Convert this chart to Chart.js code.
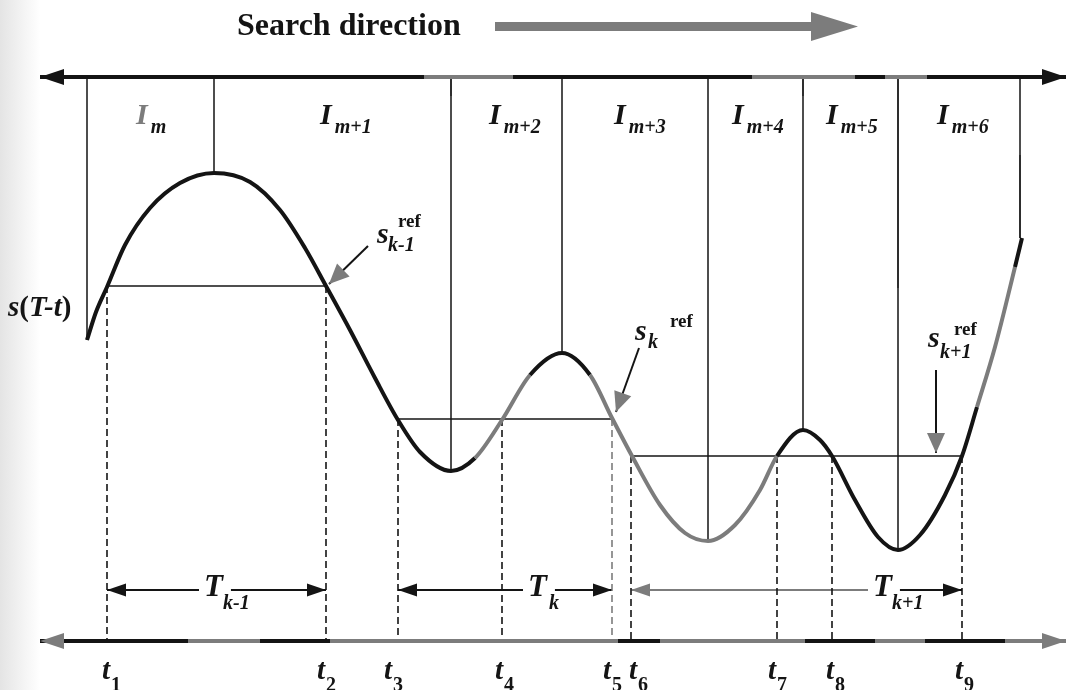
<!DOCTYPE html>
<html>
<head>
<meta charset="utf-8">
<script src="https://cdn.jsdelivr.net/npm/chart.js@4/dist/chart.umd.min.js"></script>
<style>
  html, body { margin: 0; padding: 0; background: #fff; }
</style>
</head>
<body>
<canvas id="chart" width="1066" height="690"></canvas>
<script>
// everything in its own units: x to the right, y downwards
const curveX = [87, 96, 107, 125, 150, 180, 214, 250, 280, 305, 326, 350, 375, 398, 420, 451, 475, 502, 530, 562, 590, 612, 632, 660, 685, 708, 735, 760, 777, 803, 820, 832, 855, 878, 898, 920, 945, 962, 977, 995, 1015, 1022];
const curveY = [340, 312, 287, 245, 208, 183, 173, 182, 210, 248, 286, 330, 378, 420, 452, 471, 458, 420, 375, 353, 375, 418, 456, 505, 533, 541, 525, 490, 456, 430, 440, 456, 500, 537, 550, 535, 495, 456, 407, 347, 267, 238];

const intervalX = [87, 214, 451, 562, 708, 803, 898, 1020];
const intervalEnd = [340, 173, 471, 353, 541, 430, 550, 238];
const intervalNames = ["m", "m+1", "m+2", "m+3", "m+4", "m+5", "m+6"];

const refLevel = [286, 419, 456];
const refFrom = [107, 398, 631];
const refTo = [326, 612, 962];
const refNames = ["k-1", "k", "k+1"];

const tX = [107, 326, 398, 502, 612, 631, 777, 832, 962];
const tTop = [286, 286, 419, 419, 419, 456, 456, 456, 456];
const tNames = ["1", "2", "3", "4", "5", "6", "7", "8", "9"];

const periodNames = ["k-1", "k", "k+1"];
const periodStart = [0, 2, 5];   // index into tX
const periodEnd = [1, 4, 8];

// layout of the drawing (not data)
const topAxisY = 77, bottomAxisY = 641, periodY = 590;
const topAxisStops = [40, 424, 513, 752, 855, 885, 927, 1066];
const bottomAxisStops = [40, 188, 260, 330, 618, 660, 805, 875, 925, 1005, 1066];
const curveGrey = [[470, 545], [595, 625], [640, 775], [975, 1012]];
const greyVertical = [[898, 79, 288], [1020, 155, 238], [803, 79, 96], [451, 79, 96]];
const intervalLabelX = [136, 320, 489, 614, 732, 826, 937];
const tLabelX = [102, 317, 384, 495, 603, 629, 768, 826, 955];
const periodLabelX = [204, 528, 873];
const refS = [[377, 243], [635, 340], [928, 347]];
const refSub = [[388, 251], [648, 348], [940, 358]];
const refSup = [[398, 227], [670, 327], [954, 335]];
const refArrowFrom = [[368, 246], [639, 348], [936, 370]];
const refArrowTo = [[329, 284], [616, 412], [936, 453]];

const black = "#141414";
const grey = "#7c7c7c";
const serif = "'Liberation Serif', 'DejaVu Serif', serif";

const measure = document.createElement("canvas").getContext("2d");
function textWidth(t, font) { measure.font = font; return measure.measureText(t).width; }

const datasets = [];
function line(points, opts) {
    datasets.push(Object.assign({
        data: points,
        showLine: true,
        pointRadius: 0,
        borderColor: black,
        borderWidth: 1.5,
        fill: false,
        tension: 0,
    }, opts));
}

// the signal itself goes first so it is drawn on top
line(curveX.map((x, i) => ({ x: x, y: curveY[i] })), {
    borderWidth: 4,
    cubicInterpolationMode: "monotone",
    segment: {
        borderColor: (c) => {
            const mid = (c.p0.parsed.x + c.p1.parsed.x) / 2;
            return curveGrey.some((r) => mid > r[0] && mid < r[1]) ? grey : black;
        },
    },
});

// axes with their grey stretches
line(topAxisStops.map((x) => ({ x: x, y: topAxisY })), {
    borderWidth: 4,
    segment: { borderColor: (c) => (c.p0DataIndex % 2 ? grey : black) },
});
line(bottomAxisStops.map((x) => ({ x: x, y: bottomAxisY })), {
    borderWidth: 4,
    segment: { borderColor: (c) => (c.p0DataIndex % 2 ? grey : black) },
});

intervalX.forEach((x, i) => line([{ x: x, y: topAxisY }, { x: x, y: intervalEnd[i] }]));
greyVertical.forEach((g) => line([{ x: g[0], y: g[1] }, { x: g[0], y: g[2] }], { borderColor: grey, borderWidth: 2 }));

refLevel.forEach((y, i) => line([{ x: refFrom[i], y: y }, { x: refTo[i], y: y }]));

tX.forEach((x, i) => line([{ x: x, y: tTop[i] }, { x: x, y: bottomAxisY }], {
    borderDash: [7, 4],
    borderWidth: 1.6,
    borderColor: i === 4 ? grey : black,
}));

const bigItalic = "italic bold 31px " + serif;
periodNames.forEach((n, i) => {
    const a = tX[periodStart[i]], b = tX[periodEnd[i]];
    const lx = periodLabelX[i];
    const w = textWidth("T", bigItalic);
    line([{ x: a, y: periodY }, { x: lx - 5, y: periodY }], { borderWidth: 2, borderColor: i === 2 ? grey : black });
    line([{ x: lx + w + 8, y: periodY }, { x: b, y: periodY }], { borderWidth: 2 });
});

refArrowFrom.forEach((p, i) => line([{ x: p[0], y: p[1] }, { x: refArrowTo[i][0], y: refArrowTo[i][1] }], { borderWidth: 2 }));

const drawing = {
    id: "drawing",
    beforeDraw(chart) {
        const c = chart.ctx;
        const g = c.createLinearGradient(0, 0, 40, 0);
        g.addColorStop(0, "#e4e4e4");
        g.addColorStop(1, "#ffffff");
        c.save();
        c.fillStyle = "#fff";
        c.fillRect(0, 0, chart.width, chart.height);
        c.fillStyle = g;
        c.fillRect(0, 0, 40, chart.height);
        c.restore();
    },
    afterDatasetsDraw(chart) {
        const c = chart.ctx;
        const sx = chart.scales.x, sy = chart.scales.y;
        const X = (v) => sx.getPixelForValue(v);
        const Y = (v) => sy.getPixelForValue(v);

        function head(tipX, tipY, fromX, fromY, len, half, color) {
            const ax = X(tipX), ay = Y(tipY);
            const ang = Math.atan2(ay - Y(fromY), ax - X(fromX));
            c.save();
            c.translate(ax, ay);
            c.rotate(ang);
            c.fillStyle = color;
            c.beginPath();
            c.moveTo(0, 0);
            c.lineTo(-len, -half);
            c.lineTo(-len, half);
            c.closePath();
            c.fill();
            c.restore();
        }
        function text(t, x, y, font, color) {
            c.font = font;
            c.fillStyle = color || black;
            c.fillText(t, X(x), Y(y));
            return c.measureText(t).width;
        }

        c.save();
        c.textBaseline = "alphabetic";
        c.textAlign = "left";

        // search direction
        text("Search direction", 237, 35, "bold 32px " + serif);
        c.fillStyle = grey;
        c.fillRect(X(495), Y(22), X(812) - X(495), Y(31) - Y(22));
        head(858, 26.5, 495, 26.5, 47, 14.5, grey);

        // axis arrow heads
        head(topAxisStops[0], topAxisY, 100, topAxisY, 24, 8, black);
        head(topAxisStops[topAxisStops.length - 1], topAxisY, 900, topAxisY, 24, 8, black);
        head(bottomAxisStops[0], bottomAxisY, 100, bottomAxisY, 24, 8, grey);
        head(bottomAxisStops[bottomAxisStops.length - 1], bottomAxisY, 900, bottomAxisY, 24, 8, grey);

        // interval names
        intervalNames.forEach((n, i) => {
            const x = intervalLabelX[i];
            const w = text("I", x, 124, "italic bold 30px " + serif, i === 0 ? grey : black);
            text(n, x + w + 3, 133, "italic bold 20px " + serif);
        });

        // s(T-t)
        let x = 8;
        x += textWidth("s", "italic bold 29px " + serif); text("s", 8, 316, "italic bold 29px " + serif);
        text("(", x, 316, "bold 29px " + serif); x += textWidth("(", "bold 29px " + serif);
        text("T-t", x, 316, "italic bold 29px " + serif); x += textWidth("T-t", "italic bold 29px " + serif);
        text(")", x, 316, "bold 29px " + serif);

        // reference values
        refNames.forEach((n, i) => {
            text("s", refS[i][0], refS[i][1], "italic bold 30px " + serif);
            text(n, refSub[i][0], refSub[i][1], "italic bold 20px " + serif);
            text("ref", refSup[i][0], refSup[i][1], "bold 19px " + serif);
            head(refArrowTo[i][0], refArrowTo[i][1], refArrowFrom[i][0], refArrowFrom[i][1], 20, 9, grey);
        });

        // periods
        periodNames.forEach((n, i) => {
            const a = tX[periodStart[i]], b = tX[periodEnd[i]];
            head(a, periodY, a + 50, periodY, 19, 6.5, i === 2 ? grey : black);
            head(b, periodY, b - 50, periodY, 19, 6.5, black);
            const lx = periodLabelX[i];
            text("T", lx, 596, bigItalic);
            text(n, lx + (i === 1 ? 21 : 19), 609, "italic bold 20px " + serif);
        });

        // instants
        tNames.forEach((n, i) => {
            const w = text("t", tLabelX[i], 679, "italic bold 29px " + serif);
            text(n, tLabelX[i] + w + 1, 691, "bold 20px " + serif);
        });
        c.restore();
    },
};

new Chart(document.getElementById("chart"), {
    type: "scatter",
    data: { datasets: datasets },
    options: {
        responsive: false,
        animation: false,
        events: [],
        layout: { padding: 0 },
        scales: {
            x: { type: "linear", min: 0, max: 1066, display: false },
            y: { type: "linear", min: 0, max: 690, reverse: true, display: false },
        },
        plugins: { legend: { display: false }, tooltip: { enabled: false } },
    },
    plugins: [drawing],
});
</script>
</body>
</html>
